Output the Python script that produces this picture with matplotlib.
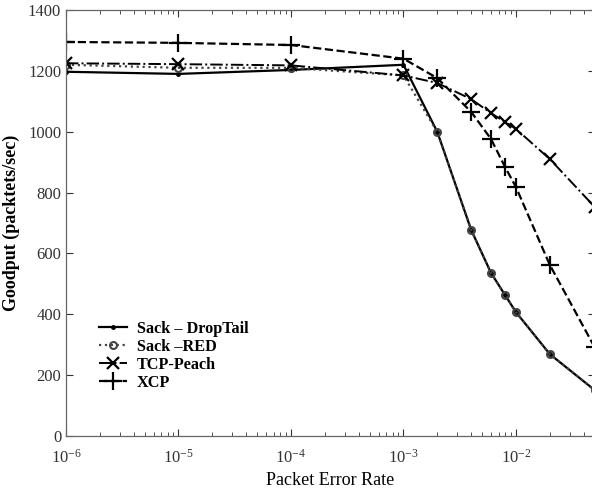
import matplotlib
matplotlib.use("Agg")
import matplotlib.pyplot as plt
from matplotlib.ticker import LogLocator, NullFormatter

per = [1e-6, 1e-5, 1e-4, 1e-3, 2e-3, 4e-3, 6e-3, 8e-3, 1e-2, 2e-2, 5e-2]
sack_droptail = [1197, 1190, 1203, 1220, 999, 677, 536, 463, 407, 269, 151]
sack_red = [1220, 1210, 1210, 1185, 999, 677, 536, 463, 407, 269, 151]
tcp_peach = [1225, 1222, 1218, 1185, 1160, 1107, 1061, 1032, 1009, 910, 753]
xcp = [1295, 1292, 1285, 1240, 1176, 1065, 976, 884, 818, 562, 292]

plt.rcParams['font.family'] = ['Liberation Serif', 'DejaVu Serif']
plt.rcParams['mathtext.fontset'] = 'custom'
plt.rcParams['mathtext.rm'] = 'Liberation Serif'

fig = plt.figure(figsize=(5.92, 4.91), dpi=100)
ax = fig.add_axes([66/592, 1-436/491, (594.6-66)/592, (436-10)/491])

ax.plot(per, sack_droptail, '-', color='black', lw=1.6, marker='.', ms=5, label='Sack \u2013 DropTail')
ax.plot(per, sack_red, ':', color='#444444', lw=1.6, marker='o', ms=5, mfc='none', mew=1.5, label='Sack \u2013RED')
ax.plot(per, tcp_peach, '-.', color='black', lw=1.4, marker='x', ms=9, mew=1.6, label='TCP-Peach')
ax.plot(per, xcp, '--', color='black', lw=1.6, marker='+', ms=13, mew=1.6, label='XCP')

ax.set_xscale('log')
ax.set_xlim(1e-6, 5e-2)
ax.set_ylim(0, 1400)
ax.set_yticks([0, 200, 400, 600, 800, 1000, 1200, 1400])
ax.xaxis.set_major_locator(LogLocator(base=10, numticks=10))
ax.xaxis.set_minor_locator(LogLocator(base=10, subs=range(2, 10), numticks=20))
ax.xaxis.set_minor_formatter(NullFormatter())
ax.tick_params(which='both', direction='in', top=True, right=True, labelsize=12, colors='#333333')
ax.tick_params(axis='x', which='major', pad=9)
ax.tick_params(which='major', length=5)
ax.tick_params(which='minor', length=3)
for s in ax.spines.values():
    s.set_color('#666666')
    s.set_linewidth(0.9)
ax.spines['right'].set_visible(False)

ax.set_xlabel('Packet Error Rate', fontsize=13, labelpad=4)
ax.set_ylabel('Goodput (packtets/sec)', fontsize=13, fontweight='bold', labelpad=6)

leg = ax.legend(loc='lower left', bbox_to_anchor=(0.035, 0.072), frameon=False,
                prop={'family': 'Liberation Serif', 'weight': 'bold', 'size': 11.7},
                handlelength=1.7, handletextpad=0.6, labelspacing=0.12)

fig.savefig('out.png', dpi=100)
